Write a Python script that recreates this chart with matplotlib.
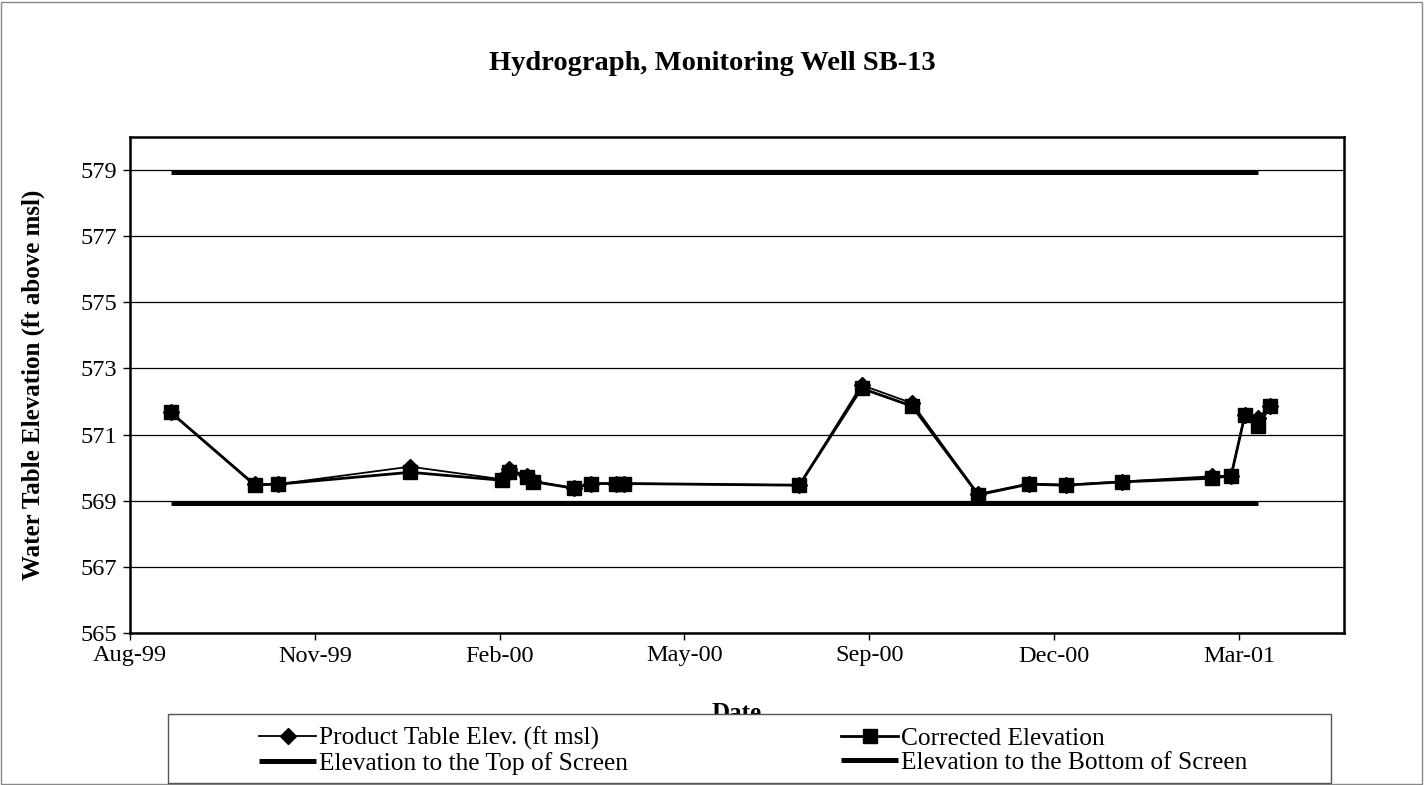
import numpy as np
import pandas as pd
import matplotlib
matplotlib.use("Agg")
import matplotlib.pyplot as plt
import matplotlib.dates as mdates
from matplotlib.patches import Rectangle

plt.rcParams['font.family'] = ['Liberation Serif', 'DejaVu Serif']

# sampling dates and water table readings (ft msl)
dates = pd.to_datetime([
    "1999-09-08", "1999-10-21", "1999-11-02", "2000-01-09", "2000-02-25",
    "2000-02-29", "2000-03-09", "2000-03-12", "2000-04-02", "2000-04-11",
    "2000-04-24", "2000-04-28", "2000-07-27", "2000-08-28", "2000-09-23",
    "2000-10-27", "2000-11-22", "2000-12-11", "2001-01-09", "2001-02-24",
    "2001-03-06", "2001-03-13", "2001-03-20", "2001-03-26",
])
product_elev = [
    571.67, 569.50, 569.50, 570.03, 569.65,
    569.95, 569.76, 569.60, 569.38, 569.52,
    569.52, 569.52, 569.47, 572.50, 571.95,
    569.20, 569.52, 569.48, 569.58, 569.74,
    569.76, 571.58, 571.50, 571.88,
]
corrected_elev = [
    571.67, 569.48, 569.50, 569.86, 569.62,
    569.88, 569.72, 569.58, 569.38, 569.52,
    569.52, 569.52, 569.47, 572.40, 571.86,
    569.18, 569.50, 569.47, 569.57, 569.68,
    569.76, 571.58, 571.25, 571.88,
]

# well screen elevations
screen_dates = pd.to_datetime(["1999-09-08", "2001-03-20"])
screen_top = [578.93, 578.93]
screen_bottom = [568.93, 568.93]

# date axis: ticks every 95 days
x_start = pd.Timestamp("1999-08-18")
x_end = x_start + pd.Timedelta(days=624)
x_ticks = [x_start + pd.Timedelta(days=95 * k) for k in range(7)]
y_ticks = np.arange(565, 580, 2)

W, H = 1425, 785
fig = plt.figure(figsize=(W / 100, H / 100), dpi=100)
ax = fig.add_axes([130 / W, 1 - 633 / H, (1344 - 130) / W, (633 - 137) / H])

l_prod, = ax.plot(dates, product_elev, color="black", lw=1.3, marker="D",
                  ms=8.5, zorder=4)
l_corr, = ax.plot(dates, corrected_elev, color="black", lw=2.0, marker="s",
                  ms=10, zorder=5)
l_top, = ax.plot(screen_dates, screen_top, color="black", lw=3.6,
                 solid_capstyle="butt", zorder=3)
l_bot, = ax.plot(screen_dates, screen_bottom, color="black", lw=3.6,
                 solid_capstyle="butt", zorder=3)

ax.set_xlim(x_start, x_end)
ax.set_ylim(565, 580)
ax.set_xticks(x_ticks)
ax.xaxis.set_major_formatter(mdates.DateFormatter("%b-%y"))
ax.set_yticks(y_ticks)
ax.yaxis.grid(True, color="black", lw=0.9)
ax.set_axisbelow(True)
for s in ax.spines.values():
    s.set_linewidth(1.8)
ax.tick_params(axis="both", direction="out", length=5, width=1,
               labelsize=17.5, pad=4)

ax.set_ylabel("Water Table Elevation (ft above msl)", fontsize=18,
              fontweight="bold")
ax.yaxis.set_label_coords(-(130 - 45) / 1214, 0.5)
ax.set_xlabel("Date", fontsize=18, fontweight="bold")
ax.xaxis.set_label_coords(0.5, -(713 - 633) / 496)
ax.xaxis.label.set_va("center")

fig.text(0.5, 1 - 63 / H, "Hydrograph, Monitoring Well SB-13",
         ha="center", va="center", fontsize=20.5, fontweight="bold")

# legend box sits over the bottom of the "Date" label
fig.patches.append(Rectangle((168 / W, 1 - 783 / H), (1331 - 168) / W,
                             (783 - 714) / H, transform=fig.transFigure,
                             facecolor="white", edgecolor="#555555",
                             lw=1.0, zorder=3))
fig.legend([l_prod, l_top, l_corr, l_bot],
           ["Product Table Elev. (ft msl)", "Elevation to the Top of Screen",
            "Corrected Elevation", "Elevation to the Bottom of Screen"],
           ncol=2, loc="upper left", bbox_to_anchor=(259 / W, 1 - 727 / H),
           frameon=False, fontsize=18.3, handlelength=2.25, handletextpad=0.1,
           columnspacing=8.4, labelspacing=0.05, borderpad=0,
           borderaxespad=0).set_zorder(5)

# outer chart border
fig.patches.append(Rectangle((0.001, 0.001), 0.997, 0.997,
                             transform=fig.transFigure, fill=False,
                             edgecolor="#888888", lw=1.0, zorder=2))

fig.savefig("out.png", dpi=100)
